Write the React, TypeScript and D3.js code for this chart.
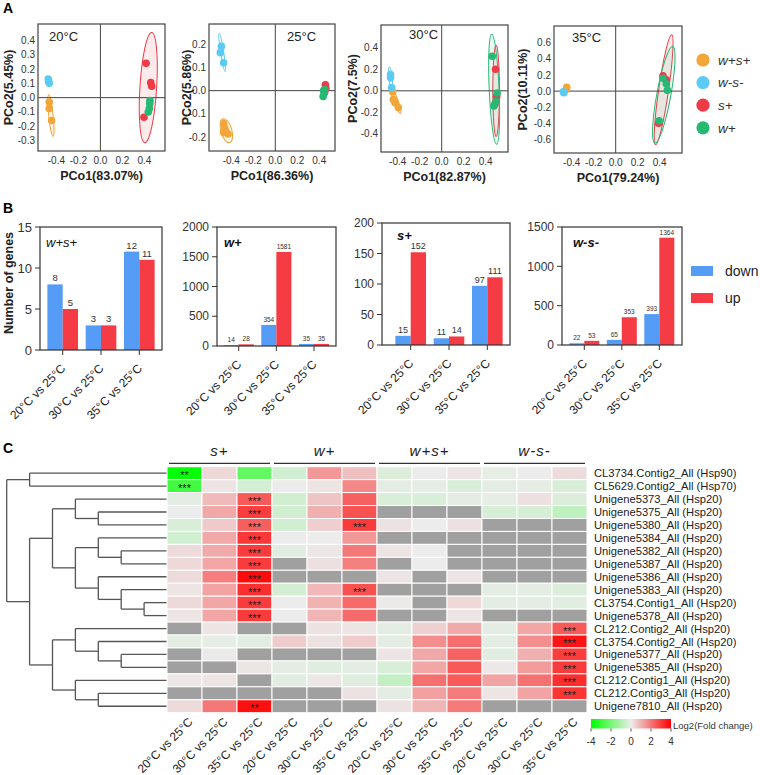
import * as d3 from "d3";

// ---------- A: PCoA ----------
const groupNames = ["w+s+", "w-s-", "s+", "w+"];
const groupColors = ["#F2A63A", "#5BCBF3", "#EF3A47", "#27B874"];

// [group, PCo1, PCo2]
const pcoa20 = [
  [0, -0.465, -0.03], [0, -0.465, -0.075], [0, -0.443, -0.16],
  [1, -0.474, 0.13], [1, -0.47, 0.115], [1, -0.465, 0.1],
  [2, 0.415, 0.24], [2, 0.457, 0.105], [2, 0.466, 0.08], [2, 0.396, -0.137],
  [3, 0.45, -0.02], [3, 0.448, -0.04], [3, 0.445, -0.075], [3, 0.435, -0.1],
];
const pcoa25 = [
  [0, -0.47, -0.14], [0, -0.46, -0.16], [0, -0.47, -0.18], [0, -0.43, -0.186], [0, -0.45, -0.175],
  [1, -0.49, 0.19], [1, -0.5, 0.163], [1, -0.47, 0.12],
  [2, 0.455, 0.025], [2, 0.46, 0.01], [2, 0.45, -0.005],
  [3, 0.44, 0.0], [3, 0.445, -0.01], [3, 0.435, -0.025], [3, 0.45, 0.005],
];
const pcoa30 = [
  [0, -0.445, -0.01], [0, -0.44, -0.08], [0, -0.425, -0.11], [0, -0.395, -0.155],
  [1, -0.465, 0.15], [1, -0.465, 0.12], [1, -0.455, 0.03],
  [2, 0.49, 0.2], [2, 0.5, -0.05], [2, 0.485, -0.12],
  [3, 0.46, 0.32], [3, 0.505, -0.02], [3, 0.494, -0.1], [3, 0.475, -0.14],
];
const pcoa35 = [
  [0, -0.445, 0.046], [0, -0.45, 0.02],
  [1, -0.476, -0.01], [1, -0.47, -0.02],
  [2, 0.43, 0.19], [2, 0.46, 0.14], [2, 0.39, -0.4],
  [3, 0.43, 0.16], [3, 0.46, 0.09], [3, 0.47, 0.01], [3, 0.395, -0.37],
];

// ellipses: [group, cx, cy, tipX, tipY, halfWidth]
const ell20 = [
  [0, -0.45, -0.125, -0.47, 0.02, 0.02], [1, -0.47, 0.115, -0.475, 0.14, 0.018],
  [2, 0.435, 0.07, 0.466, 0.455, 0.076], [3, 0.445, -0.06, 0.455, 0.0, 0.015],
];
const ell25 = [
  [0, -0.445, -0.172, -0.475, -0.121, 0.05], [1, -0.483, 0.164, -0.51, 0.246, 0.014],
  [2, 0.455, 0.01, 0.46, 0.04, 0.015], [3, 0.443, -0.008, 0.44, 0.02, 0.012],
];
const ell30 = [
  [0, -0.42, -0.085, -0.465, 0.04, 0.02], [1, -0.465, 0.11, -0.475, 0.22, 0.015],
  [2, 0.495, 0.0, 0.495, 0.425, 0.03], [3, 0.477, 0.015, 0.455, 0.525, 0.045],
];
const ell35 = [
  [0, -0.447, 0.035, -0.44, 0.06, 0.02], [1, -0.473, -0.015, -0.47, 0.0, 0.02],
  [2, 0.436, 0.016, 0.509, 0.7, 0.045], [3, 0.4375, -0.046, 0.518, 0.554, 0.064],
];

const xTicksA = [-0.4, -0.2, 0, 0.2, 0.4];
const yTicks20 = [-0.3, -0.2, -0.1, 0, 0.1, 0.2, 0.3, 0.4];
const yTicks25 = [-0.2, -0.1, 0, 0.1, 0.2];
const yTicks30 = [-0.4, -0.2, 0, 0.2, 0.4];
const yTicks35 = [-0.6, -0.4, -0.2, 0, 0.2, 0.4, 0.6];

const pcoaPanels = [
  { temp: "20°C", pts: pcoa20, ells: ell20, yTicks: yTicks20, xLab: "PCo1(83.07%)", yLab: "PCo2(5.45%)",
    box: [38, 165, 24, 151], xDom: [-0.567, 0.587], yDom: [-0.373, 0.515], tempX: 49, tempY: 41, yLabX: 13 },
  { temp: "25°C", pts: pcoa25, ells: ell25, yTicks: yTicks25, xLab: "PCo1(86.36%)", yLab: "PCo2(5.86%)",
    box: [209, 335, 24, 151], xDom: [-0.603, 0.543], yDom: [-0.259, 0.286], tempX: 287, tempY: 41, yLabX: 191 },
  { temp: "30°C", pts: pcoa30, ells: ell30, yTicks: yTicks30, xLab: "PCo1(82.87%)", yLab: "PCo2(7.5%)",
    box: [381, 508, 25, 152], xDom: [-0.552, 0.603], yDom: [-0.567, 0.61], tempX: 409, tempY: 39, yLabX: 357 },
  { temp: "35°C", pts: pcoa35, ells: ell35, yTicks: yTicks35, xLab: "PCo1(79.24%)", yLab: "PCo2(10.11%)",
    box: [554, 682, 26, 153], xDom: [-0.561, 0.603], yDom: [-0.77, 0.81], tempX: 572, tempY: 42, yLabX: 527 },
];

// ---------- B: DEG counts ----------
const comparisons = ["20°C vs 25°C", "30°C vs 25°C", "35°C vs 25°C"];
const downWpSp = [8, 3, 12];
const upWpSp = [5, 3, 11];
const downWp = [14, 354, 35];
const upWp = [28, 1581, 35];
const downSp = [15, 11, 97];
const upSp = [152, 14, 111];
const downWmSm = [22, 65, 393];
const upWmSm = [53, 353, 1364];

const blue = "#559CF7";
const red = "#F53B43";

const barPanels = [
  { name: "w+s+", down: downWpSp, up: upWpSp, max: 15, ticks: [0, 5, 10, 15], left: 40, right: 162, top: 227, zero: 350,
    c0: 62.7, c2: 139.3, valFs: 9.5, tickFs: 13, nameX: 46, nameY: 247, bold: false },
  { name: "w+", down: downWp, up: upWp, max: 2000, ticks: [0, 500, 1000, 1500, 2000], left: 217, right: 336, top: 227, zero: 346,
    c0: 238.7, c2: 314, valFs: 6.5, tickFs: 12, nameX: 224, nameY: 247, bold: true },
  { name: "s+", down: downSp, up: upSp, max: 200, ticks: [0, 50, 100, 150, 200], left: 382, right: 510, top: 223, zero: 345,
    c0: 410.7, c2: 487.3, valFs: 9, tickFs: 12, nameX: 397, nameY: 240, bold: true },
  { name: "w-s-", down: downWmSm, up: upWmSm, max: 1500, ticks: [0, 500, 1000, 1500], left: 562, right: 682, top: 227, zero: 345,
    c0: 584.3, c2: 659.3, valFs: 6.5, tickFs: 12, nameX: 573, nameY: 247, bold: true },
];

// ---------- C: heatmap ----------
const geneNames = [
  "CL3734.Contig2_All (Hsp90)", "CL5629.Contig2_All (Hsp70)", "Unigene5373_All (Hsp20)", "Unigene5375_All (Hsp20)",
  "Unigene5380_All (Hsp20)", "Unigene5384_All (Hsp20)", "Unigene5382_All (Hsp20)", "Unigene5387_All (Hsp20)",
  "Unigene5386_All (Hsp20)", "Unigene5383_All (Hsp20)", "CL3754.Contig1_All (Hsp20)", "Unigene5378_All (Hsp20)",
  "CL212.Contig2_All (Hsp20)", "CL3754.Contig2_All (Hsp20)", "Unigene5377_All (Hsp20)", "Unigene5385_All (Hsp20)",
  "CL212.Contig1_All (Hsp20)", "CL212.Contig3_All (Hsp20)", "Unigene7810_All (Hsp20)",
];
const heatGroups = ["s+", "w+", "w+s+", "w-s-"];
const N = null;
// log2 fold change per gene: [20 vs 25, 30 vs 25, 35 vs 25]
const fcSp = [
  [-3.9, 0.34, -2.3], [-2.9, 0.14, -0.41], [-0.15, 0.85, 2.47], [0, 1.15, 2.97], [-0.34, 0.58, 2.4],
  [-0.47, 1.15, 3.05], [0.3, 1.12, 3.0], [0.32, 1.18, 3.0], [0.3, 1.86, 3.8], [0.14, 1.22, 3.2],
  [0.32, 1.18, 3.0], [0.14, 1.18, 3.0], [N, 0.14, N], [-0.15, -0.12, -0.17], [N, 0.05, N],
  [N, N, 0.14], [0.1, 0.14, N], [N, N, N], [0.3, 1.97, 3.73],
];
const fcWp = [
  [-0.47, 1.42, 0.75], [0, 0.14, 1.7], [-0.47, 0.68, 2.37], [-0.47, 1.02, 2.6], [-0.47, 0.51, 3.0],
  [0, -0.02, 1.42], [-0.2, 0.1, 1.97], [N, 0.2, 1.83], [N, N, N], [-0.41, 0.88, 2.64],
  [0, 0.98, 2.2], [0, 0.92, 2.17], [N, 0.17, 0.14], [0.54, 0.17, 0.56], [N, N, N],
  [-0.15, -0.22, -0.15], [-0.2, 0.1, -0.22], [N, N, 0.17], [N, N, N],
];
const fcWpSp = [
  [-0.27, 0, 0.12], [-0.15, -0.12, -0.34], [-0.34, -0.34, -0.15], [N, N, N], [0.17, 0, 0.2],
  [N, N, N], [0.14, 0, N], [N, 0, N], [0.12, N, 0.12], [N, N, N],
  [0.05, N, 0.34], [N, N, 0.12], [-0.15, 0.47, 1.12], [-0.15, 1.59, 2.14], [0.12, 1.15, 2.34],
  [-0.34, 1.18, 2.47], [-0.68, 2.1, 2.47], [-0.15, 1.29, 1.9], [0.17, 0.92, 1.93],
];
const fcWmSm = [
  [-0.12, 0, 0.27], [-0.15, -0.12, -0.32], [-0.12, 0.2, -0.27], [-0.38, -0.38, -0.76], [N, N, N],
  [N, N, N], [N, N, N], [N, N, N], [N, N, N], [-0.15, -0.15, -0.27],
  [-0.15, -0.15, -0.2], [N, N, N], [-0.15, 1.18, 2.5], [-0.15, 1.59, 3.66], [-0.2, 1.02, 2.95],
  [0.07, 1.36, 3.0], [1.22, 2.07, 3.22], [0.14, 1.22, 3.12], [N, N, N],
];
// [row, column, mark]
const starCells = [
  [0, 0, "**"], [1, 0, "***"], [2, 2, "***"], [3, 2, "***"], [4, 2, "***"], [5, 2, "***"], [6, 2, "***"],
  [7, 2, "***"], [8, 2, "***"], [9, 2, "***"], [10, 2, "***"], [11, 2, "***"], [4, 5, "***"], [9, 5, "***"],
  [12, 11, "***"], [13, 11, "***"], [14, 11, "***"], [15, 11, "***"], [16, 11, "***"], [17, 11, "***"], [18, 2, "**"],
];
// dendrogram: level, left, right; numbers are row indices
const n = (h, a, b) => ({ h, c: [a, b] });
const dendro = n(7, n(6, 0, 1),
  n(6,
    n(5, n(4, 2, n(3, 3, 4)), n(4, n(3, 5, n(2, 6, 7)), n(3, 8, n(2, 9, n(1, 10, 11))))),
    n(5, n(4, 12, n(3, 13, n(2, 14, 15))), n(4, 16, n(3, 17, 18)))));
const legendTicks = [-4, -2, 0, 2, 4];

const font = "'Liberation Sans', Arial, sans-serif";
const fmt = (v) => v.toFixed(1);

function PcoaPlot({ p }) {
  const [l, r, t, b] = p.box;
  const x = d3.scaleLinear(p.xDom, [l, r]);
  const y = d3.scaleLinear(p.yDom, [b, t]);
  const k = x(1) - x(0);
  return (
    <g>
      {p.ells.map((e, i) => {
        const cx = x(e[1]), cy = y(e[2]);
        const tx = x(e[3]), ty = y(e[4]);
        const a = Math.hypot(tx - cx, ty - cy);
        const ang = (Math.atan2(ty - cy, tx - cx) * 180) / Math.PI;
        return (
          <ellipse key={i} cx={cx} cy={cy} rx={a} ry={e[5] * k} transform={`rotate(${ang},${cx},${cy})`}
            fill={groupColors[e[0]]} fillOpacity={0.1} stroke={groupColors[e[0]]} strokeWidth={1} />
        );
      })}
      <line x1={x(0)} x2={x(0)} y1={t} y2={b} stroke="#444" />
      <line x1={l} x2={r} y1={y(0)} y2={y(0)} stroke="#444" />
      {p.pts.map((d, i) => (
        <circle key={i} cx={x(d[1])} cy={y(d[2])} r={3.8} fill={groupColors[d[0]]} />
      ))}
      <rect x={l} y={t} width={r - l} height={b - t} fill="none" stroke="#444" strokeWidth={1.2} />
      {p.yTicks.map((v) => (
        <text key={v} x={l - 3} y={y(v)} dy="0.35em" textAnchor="end" fontSize={10} fill="#333">{fmt(v)}</text>
      ))}
      {xTicksA.map((v) => (
        <text key={v} x={x(v)} y={b + 13} textAnchor="middle" fontSize={10} fill="#333">{fmt(v)}</text>
      ))}
      <text x={p.tempX} y={p.tempY} fontSize={13} fill="#222">{p.temp}</text>
      <text x={(l + r) / 2} y={b + 29} textAnchor="middle" fontSize={12.5} fontWeight="bold" fill="#222">{p.xLab}</text>
      <text transform={`translate(${p.yLabX},${(t + b) / 2}) rotate(-90)`} textAnchor="middle" fontSize={12.5}
        fontWeight="bold" fill="#222">{p.yLab}</text>
    </g>
  );
}

function BarPlot({ p }) {
  const step = (p.c2 - p.c0) / 2;
  const x = d3.scaleBand().domain(comparisons).range([p.c0 - step / 2, p.c2 + step / 2]).paddingInner(0.2).paddingOuter(0.1);
  const sub = d3.scaleBand().domain(["down", "up"]).range([0, x.bandwidth()]);
  const y = d3.scaleLinear([0, p.max], [p.zero, p.top]);
  return (
    <g>
      {comparisons.map((c, i) => (
        <g key={c}>
          <rect x={x(c) + sub("down")} y={y(p.down[i])} width={sub.bandwidth()} height={p.zero - y(p.down[i])} fill={blue} />
          <rect x={x(c) + sub("up")} y={y(p.up[i])} width={sub.bandwidth()} height={p.zero - y(p.up[i])} fill={red} />
          <text x={x(c) + sub("down") + sub.bandwidth() / 2} y={y(p.down[i]) - 3} textAnchor="middle" fontSize={p.valFs} fill="#333">{p.down[i]}</text>
          <text x={x(c) + sub("up") + sub.bandwidth() / 2} y={y(p.up[i]) - 3} textAnchor="middle" fontSize={p.valFs} fill="#333">{p.up[i]}</text>
          <line x1={x(c) + x.bandwidth() / 2} x2={x(c) + x.bandwidth() / 2} y1={p.zero} y2={p.zero + 5} stroke="#333" />
          <text transform={`translate(${x(c) + x.bandwidth() / 2 + 3.5},${p.zero + 19}) rotate(-45)`} textAnchor="end"
            fontSize={12} fill="#222">{c}</text>
        </g>
      ))}
      <rect x={p.left} y={p.top} width={p.right - p.left} height={p.zero - p.top} fill="none" stroke="#333" strokeWidth={1.2} />
      {p.ticks.map((v) => (
        <g key={v}>
          <line x1={p.left - 5} x2={p.left} y1={y(v)} y2={y(v)} stroke="#333" />
          <text x={p.left - 8} y={y(v)} dy="0.35em" textAnchor="end" fontSize={p.tickFs} fill="#333">{v}</text>
        </g>
      ))}
      <text x={p.nameX} y={p.nameY} fontSize={13} fontStyle="italic" fontWeight={p.bold ? "bold" : "normal"} fill="#111">{p.name}</text>
    </g>
  );
}

function Heatmap() {
  const left = 167, right = 587, top = 466.7, bottom = 712.7;
  const cols = d3.range(12);
  const x = d3.scaleBand().domain(cols).range([left, right]);
  const y = d3.scaleBand().domain(d3.range(geneNames.length)).range([top, bottom]);
  const color = d3.scaleLinear().domain([-4, 0, 4]).range(["#00ff00", "#ececec", "#ff0000"]).clamp(true);
  const tables = [fcSp, fcWp, fcWpSp, fcWmSm];
  const cellVal = (r, c) => tables[Math.floor(c / 3)][r][c % 3];
  const dx = d3.scaleLinear([7, 0], [6.7, left]);
  const cy = (r) => y(r) + y.bandwidth() / 2;

  const segs = [];
  const walk = (node) => {
    if (typeof node === "number") return { x: left, y: cy(node) };
    const kids = node.c.map(walk);
    const nx = dx(node.h);
    const ny = (kids[0].y + kids[1].y) / 2;
    segs.push([nx, kids[0].y, nx, kids[1].y]);
    kids.forEach((k) => segs.push([nx, k.y, k.x, k.y]));
    return { x: nx, y: ny };
  };
  walk(dendro);

  const lx = d3.scaleLinear([-4, 4], [591, 671]);
  return (
    <g>
      <defs>
        <linearGradient id="fcgrad" x1="0" x2="1" y1="0" y2="0">
          {d3.range(0, 1.01, 0.125).map((t) => (
            <stop key={t} offset={t} stopColor={color(-4 + 8 * t)} />
          ))}
        </linearGradient>
      </defs>
      {segs.map((s, i) => (
        <line key={i} x1={s[0]} y1={s[1]} x2={s[2]} y2={s[3]} stroke="#555" strokeWidth={1.3} />
      ))}
      {geneNames.map((g, r) =>
        cols.map((c) => {
          const v = cellVal(r, c);
          return (
            <rect key={`${r}-${c}`} x={x(c)} y={y(r)} width={x.bandwidth()} height={y.bandwidth()}
              fill={v === null ? "#a0a0a0" : color(v)} stroke="#fff" strokeWidth={1} />
          );
        })
      )}
      {starCells.map(([r, c, s]) => (
        <text key={`s${r}-${c}`} x={x(c) + x.bandwidth() / 2} y={cy(r) + 6} textAnchor="middle" fontSize={11} fill="#222">{s}</text>
      ))}
      {geneNames.map((g, r) => (
        <text key={g} x={594} y={cy(r)} dy="0.36em" fontSize={11.2} fill="#222">{g}</text>
      ))}
      {heatGroups.map((g, i) => (
        <g key={g}>
          <line x1={x(i * 3) + 2} x2={x(i * 3 + 2) + x.bandwidth() - 2} y1={463.3} y2={463.3} stroke="#333" strokeWidth={1.2} />
          <text x={x(i * 3) + (x.bandwidth() * 3) / 2} y={456} textAnchor="middle" fontSize={15} fontStyle="italic"
            letterSpacing={1} fill="#222">{g}</text>
        </g>
      ))}
      {cols.map((c) => (
        <text key={c} transform={`translate(${x(c) + x.bandwidth() / 2 + 9},${bottom + 10}) rotate(-45)`} textAnchor="end"
          fontSize={12} fill="#222">{comparisons[c % 3]}</text>
      ))}
      <rect x={591} y={719} width={80} height={9.5} fill="url(#fcgrad)" />
      {legendTicks.map((v) => (
        <g key={v}>
          <line x1={lx(v)} x2={lx(v)} y1={728.5} y2={731.5} stroke="#555" />
          <text x={lx(v)} y={745} textAnchor="middle" fontSize={10} fill="#333">{v}</text>
        </g>
      ))}
      <text x={673} y={728.5} fontSize={9.5} fill="#333">Log2(Fold change)</text>
    </g>
  );
}

export default function App() {
  return (
    <svg width={760} height={775} style={{ position: "absolute", left: 0, top: 0, background: "#fff" }} fontFamily={font}>
      <text x={3} y={13} fontSize={14} fontWeight="bold">A</text>
      <text x={3} y={213} fontSize={14} fontWeight="bold">B</text>
      <text x={3} y={453} fontSize={14} fontWeight="bold">C</text>
      {pcoaPanels.map((p) => (
        <PcoaPlot key={p.temp} p={p} />
      ))}
      {groupNames.map((g, i) => (
        <g key={g}>
          <circle cx={703} cy={60 + i * 22.6} r={6.6} fill={groupColors[i]} />
          <text x={718} y={60 + i * 22.6} dy="0.35em" fontSize={13.5} fontStyle="italic" fill="#333">{g}</text>
        </g>
      ))}
      <text transform="translate(13,283) rotate(-90)" textAnchor="middle" fontSize={12.5} fontWeight="bold" fill="#222">Number of genes</text>
      {barPanels.map((p) => (
        <BarPlot key={p.name} p={p} />
      ))}
      <rect x={691} y={266} width={22} height={10} fill={blue} />
      <rect x={691} y={293} width={22} height={10} fill={red} />
      <text x={725} y={271} dy="0.35em" fontSize={14} fill="#222">down</text>
      <text x={725} y={298} dy="0.35em" fontSize={14} fill="#222">up</text>
      <Heatmap />
    </svg>
  );
}
